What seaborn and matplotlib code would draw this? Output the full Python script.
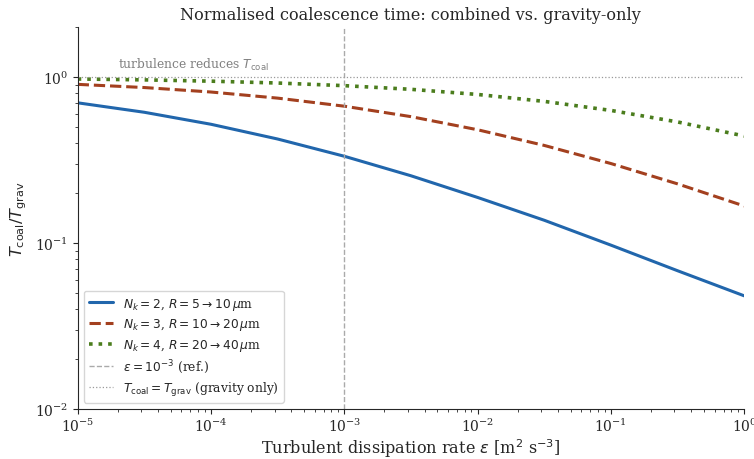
import numpy as np
import pandas as pd
import matplotlib
matplotlib.use('Agg')
import matplotlib.pyplot as plt
import seaborn as sns

# dissipation rate (half decades) and T_coal/T_grav
eps = [1e-5, 10**-4.5, 1e-4, 10**-3.5, 1e-3, 10**-2.5, 1e-2, 10**-1.5, 1e-1, 10**-0.5, 1.0]
ratio_nk2 = [0.699, 0.613, 0.519, 0.423, 0.333, 0.254, 0.188, 0.137, 0.097, 0.068, 0.048]
ratio_nk3 = [0.903, 0.864, 0.812, 0.746, 0.667, 0.577, 0.481, 0.387, 0.301, 0.227, 0.167]
ratio_nk4 = [0.973, 0.961, 0.944, 0.920, 0.887, 0.843, 0.785, 0.713, 0.629, 0.536, 0.441]

labels = [r'$N_k=2$, $R=5\rightarrow10\,\mu$m',
          r'$N_k=3$, $R=10\rightarrow20\,\mu$m',
          r'$N_k=4$, $R=20\rightarrow40\,\mu$m']
colors = ['#2166ac', '#a3401f', '#4b7d1d']
styles = ['-', '--', ':']
widths = [2.2, 2.2, 2.6]

sns.set_style('ticks')
plt.rcParams['font.family'] = 'serif'
plt.rcParams['font.serif'] = ['DejaVu Serif']

fig, ax = plt.subplots(figsize=(7.54, 4.6), dpi=100)
fig.subplots_adjust(left=0.103, right=0.987, top=0.939, bottom=0.109)

for y, lab, c, ls, lw in zip([ratio_nk2, ratio_nk3, ratio_nk4], labels, colors, styles, widths):
    df = pd.DataFrame({'eps': eps, 'ratio': y})
    sns.lineplot(data=df, x='eps', y='ratio', ax=ax, color=c, linestyle=ls, linewidth=lw, label=lab)

ax.axvline(1e-3, color='#aaaaaa', linestyle='--', linewidth=1.0, label=r'$\varepsilon=10^{-3}$ (ref.)')
ax.axhline(1.0, color='#999999', linestyle=':', linewidth=0.9, label=r'$T_{\rm coal}=T_{\rm grav}$ (gravity only)')

ax.set_xscale('log')
ax.set_yscale('log')
ax.set_xlim(1e-5, 1)
ax.set_ylim(1e-2, 2)

ax.text(2e-5, 1.065, r'turbulence reduces $T_{\rm coal}$', color='grey', fontsize=8.8, va='bottom')

ax.set_xlabel(r'Turbulent dissipation rate $\varepsilon$ [m$^2$ s$^{-3}$]', fontsize=11.6, labelpad=1)
ax.set_ylabel(r'$T_{\rm coal}/T_{\rm grav}$', fontsize=11.6)
ax.set_title('Normalised coalescence time: combined vs. gravity-only', fontsize=11.6)
ax.tick_params(labelsize=10)
ax.tick_params(axis='x', pad=2.5)

ax.legend(loc='lower left', fontsize=8.8, labelspacing=0.38, borderaxespad=0.5)
sns.despine(ax=ax)

fig.savefig('out.png', dpi=100)
